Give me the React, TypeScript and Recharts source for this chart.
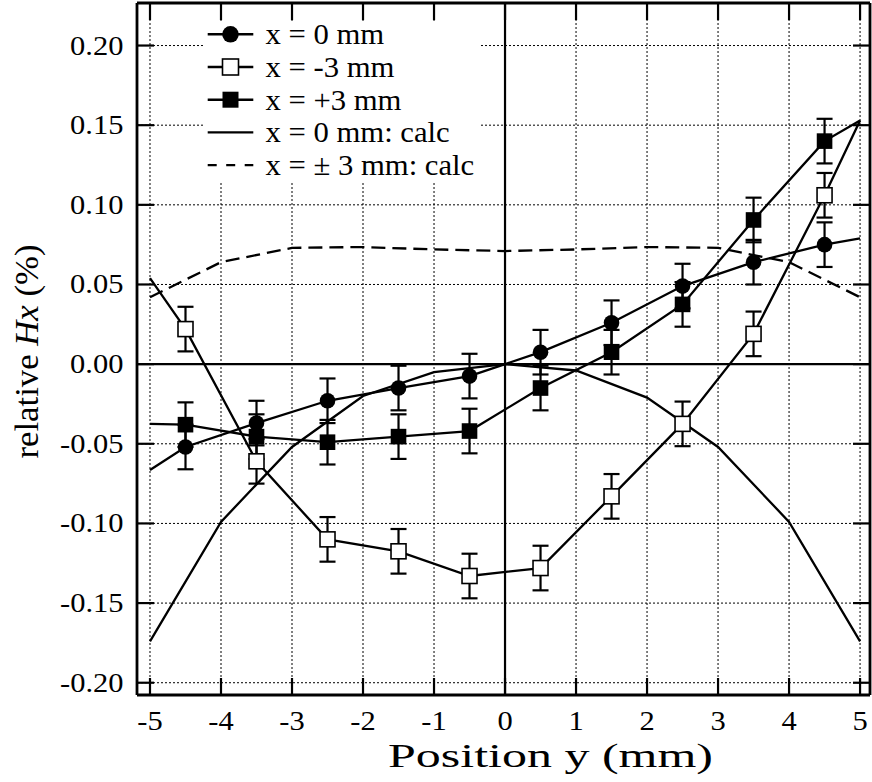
import React from 'react';
import {
  ComposedChart,
  Line,
  Scatter,
  XAxis,
  YAxis,
  CartesianGrid,
  ReferenceLine,
  ErrorBar,
  Legend,
} from 'recharts';

// ---------- data ----------
const positions = [-4.5, -3.5, -2.5, -1.5, -0.5, 0.5, 1.5, 2.5, 3.5, 4.5];
const x0Values = [-0.052, -0.037, -0.023, -0.015, -0.0075, 0.0075, 0.026, 0.049, 0.064, 0.075];
const xMinus3Values = [0.022, -0.061, -0.11, -0.1175, -0.133, -0.128, -0.083, -0.0375, 0.019, 0.106];
const xPlus3Values = [-0.038, -0.0455, -0.049, -0.0455, -0.042, -0.015, 0.0075, 0.0375, 0.0905, 0.14];
const errorBars = [0.014, 0.014, 0.014, 0.014, 0.014, 0.014, 0.014, 0.014, 0.014, 0.014];

const edgePositions = [-5, 5];
const x0Edges = [-0.0665, 0.079];
const xMinus3Edges = [0.054, 0.153];
const xPlus3Edges = [-0.0375, 0.153];

const calcPositions = [-5, -4, -3, -2, -1, 0, 1, 2, 3, 4, 5];
const calcX0 = [-0.174, -0.099, -0.052, -0.02, -0.005, 0, -0.004, -0.021, -0.052, -0.099, -0.174];
const calcX3 = [0.042, 0.064, 0.073, 0.0735, 0.072, 0.071, 0.072, 0.0735, 0.073, 0.064, 0.042];

const xTicks = [-5, -4, -3, -2, -1, 0, 1, 2, 3, 4, 5];
const yTicks = [-0.2, -0.15, -0.1, -0.05, 0, 0.05, 0.1, 0.15, 0.2];

const legendLabels = ['x = 0 mm', 'x = -3 mm', 'x = +3 mm', 'x = 0 mm: calc', 'x = \u00b1 3 mm: calc'];

// ---------- derived tables ----------
const measured = (vals: number[]) =>
  positions.map((p, i) => ({ pos: p, v: vals[i], err: errorBars[i] }));
const connected = (vals: number[], edges: number[]) => [
  { pos: edgePositions[0], v: edges[0] },
  ...positions.map((p, i) => ({ pos: p, v: vals[i] })),
  { pos: edgePositions[1], v: edges[1] },
];
const calcTable = (vals: number[]) => calcPositions.map((p, i) => ({ pos: p, v: vals[i] }));

const FONT = "'Liberation Serif', 'Times New Roman', Times, serif";
const X_DOMAIN: [number, number] = [-5.183, 5.14];
const Y_DOMAIN: [number, number] = [-0.2077, 0.2267];

const fmtY = (v: number) => (Math.abs(v) < 1e-9 ? '0.00' : v.toFixed(2));

const BottomTick = (props: any) => {
  const { x, y, payload } = props;
  return (
    <g>
      <line x1={x} y1={y} x2={x} y2={y - 17} stroke="#000" strokeWidth={2.2} />
      <text
        transform={`translate(${x},${y + 34.5}) scale(1.13,1)`}
        textAnchor="middle"
        fontSize={27}
        fontFamily={FONT}
        fill="#000"
      >
        {String(payload.value)}
      </text>
    </g>
  );
};
const TopTick = (props: any) => {
  const { x, y } = props;
  return <line x1={x} y1={y} x2={x} y2={y + 17} stroke="#000" strokeWidth={2.2} />;
};
const LeftTick = (props: any) => {
  const { x, y, payload } = props;
  return (
    <g>
      <line x1={x} y1={y} x2={x + 17} y2={y} stroke="#000" strokeWidth={2.2} />
      <text
        transform={`translate(${x - 13.5},${y + 9}) scale(1.13,1)`}
        textAnchor="end"
        fontSize={27}
        fontFamily={FONT}
        fill="#000"
      >
        {fmtY(payload.value)}
      </text>
    </g>
  );
};
const RightTick = (props: any) => {
  const { x, y } = props;
  return <line x1={x} y1={y} x2={x - 17} y2={y} stroke="#000" strokeWidth={2.2} />;
};

const CircleShape = (p: any) => <circle cx={p.cx} cy={p.cy} r={7.8} fill="#000" />;
const FilledSquare = (p: any) => <rect x={p.cx - 7.8} y={p.cy - 7.8} width={15.6} height={15.6} fill="#000" />;
const OpenSquare = (p: any) => (
  <rect x={p.cx - 7.5} y={p.cy - 7.5} width={15} height={15} fill="#fff" stroke="#000" strokeWidth={1.6} />
);

const LegendBox = () => {
  const rows = legendLabels.map((_, i) => 29.3 + i * 32.7);
  const lx1 = 4.7;
  const lx2 = 50.3;
  const mx = 27.5;
  return (
    <svg width={277} height={178} style={{ display: 'block', overflow: 'visible' }}>
      <rect x={0} y={16} width={277} height={162} fill="#fff" />
      {rows.map((cy, i) => (
        <g key={i}>
          {i < 4 && <line x1={lx1} y1={cy} x2={lx2} y2={cy} stroke="#000" strokeWidth={2.4} />}
          {i === 0 && <circle cx={mx} cy={cy} r={8.3} fill="#000" />}
          {i === 1 && (
            <rect x={mx - 8} y={cy - 8} width={16} height={16} fill="#fff" stroke="#000" strokeWidth={1.6} />
          )}
          {i === 2 && <rect x={mx - 8} y={cy - 8} width={16} height={16} fill="#000" />}
          {i === 4 && (
            <line x1={lx1} y1={cy} x2={lx2} y2={cy} stroke="#000" strokeWidth={2.4} strokeDasharray="9 9.5" />
          )}
          <text
            transform={`translate(62.5,${cy + 10}) scale(1.04,1)`}
            fontSize={29.5}
            fontFamily={FONT}
            fill="#000"
          >
            {legendLabels[i]}
          </text>
        </g>
      ))}
    </svg>
  );
};

export default function App() {
  return (
    <div style={{ position: 'absolute', left: 0, top: 0, background: '#fff' }}>
      <ComposedChart width={872} height={782} margin={{ top: 2, right: 1, left: 136, bottom: 86 }}>
        <CartesianGrid stroke="#000" strokeWidth={1} strokeDasharray="2 2" />
        <XAxis
          dataKey="pos"
          type="number"
          domain={X_DOMAIN}
          allowDataOverflow
          ticks={xTicks}
          interval={0}
          height={1}
          tickSize={0}
          tickMargin={0}
          tickLine={false}
          axisLine={{ stroke: '#000', strokeWidth: 2.8 }}
          tick={BottomTick}
          label={() => (
            <text
              x={550.5}
              y={767}
              textAnchor="middle"
              fontSize={34}
              fontFamily={FONT}
              fill="#000"
              textLength={325}
              lengthAdjust="spacingAndGlyphs"
            >
              Position y (mm)
            </text>
          )}
        />
        <XAxis
          xAxisId="top"
          orientation="top"
          dataKey="pos"
          type="number"
          domain={X_DOMAIN}
          allowDataOverflow
          ticks={xTicks}
          interval={0}
          height={1}
          tickSize={0}
          tickMargin={0}
          tickLine={false}
          axisLine={{ stroke: '#000', strokeWidth: 2.8 }}
          tick={TopTick}
        />
        <YAxis
          type="number"
          domain={Y_DOMAIN}
          allowDataOverflow
          ticks={yTicks}
          interval={0}
          width={1}
          tickSize={0}
          tickMargin={0}
          tickLine={false}
          axisLine={{ stroke: '#000', strokeWidth: 2.8 }}
          tick={LeftTick}
          label={() => (
            <text
              transform="translate(37.5,351.5) rotate(-90)"
              textAnchor="middle"
              fontSize={33}
              fontFamily={FONT}
              fill="#000"
              textLength={214}
              lengthAdjust="spacingAndGlyphs"
            >
              relative <tspan fontStyle="italic">Hx</tspan> (%)
            </text>
          )}
        />
        <YAxis
          yAxisId="right"
          orientation="right"
          type="number"
          domain={Y_DOMAIN}
          allowDataOverflow
          ticks={yTicks}
          interval={0}
          width={1}
          tickSize={0}
          tickMargin={0}
          tickLine={false}
          axisLine={{ stroke: '#000', strokeWidth: 2.8 }}
          tick={RightTick}
        />
        <ReferenceLine x={0} stroke="#000" strokeWidth={2.2} />
        <ReferenceLine y={0} stroke="#000" strokeWidth={2.2} />

        <Line data={calcTable(calcX0)} dataKey="v" type="linear" stroke="#000" strokeWidth={2.3} dot={false} isAnimationActive={false} />
        <Line data={calcTable(calcX3)} dataKey="v" type="linear" stroke="#000" strokeWidth={2.3} strokeDasharray="14 7" dot={false} isAnimationActive={false} />
        <Line data={connected(x0Values, x0Edges)} dataKey="v" type="linear" stroke="#000" strokeWidth={2.3} dot={false} isAnimationActive={false} />
        <Line data={connected(xMinus3Values, xMinus3Edges)} dataKey="v" type="linear" stroke="#000" strokeWidth={2.3} dot={false} isAnimationActive={false} />
        <Line data={connected(xPlus3Values, xPlus3Edges)} dataKey="v" type="linear" stroke="#000" strokeWidth={2.3} dot={false} isAnimationActive={false} />

        <Scatter data={measured(xMinus3Values)} dataKey="v" shape={OpenSquare} isAnimationActive={false}>
          <ErrorBar dataKey="err" direction="y" width={8} stroke="#000" strokeWidth={2.2} />
        </Scatter>
        <Scatter data={measured(xPlus3Values)} dataKey="v" shape={FilledSquare} isAnimationActive={false}>
          <ErrorBar dataKey="err" direction="y" width={8} stroke="#000" strokeWidth={2.2} />
        </Scatter>
        <Scatter data={measured(x0Values)} dataKey="v" shape={CircleShape} isAnimationActive={false}>
          <ErrorBar dataKey="err" direction="y" width={8} stroke="#000" strokeWidth={2.2} />
        </Scatter>

        <Legend
          layout="vertical"
          verticalAlign="middle"
          align="center"
          wrapperStyle={{ position: 'absolute', left: 203, top: 5, width: 277, height: 178, margin: 0, padding: 0, pointerEvents: 'none' }}
          content={() => <LegendBox />}
        />
      </ComposedChart>
    </div>
  );
}
